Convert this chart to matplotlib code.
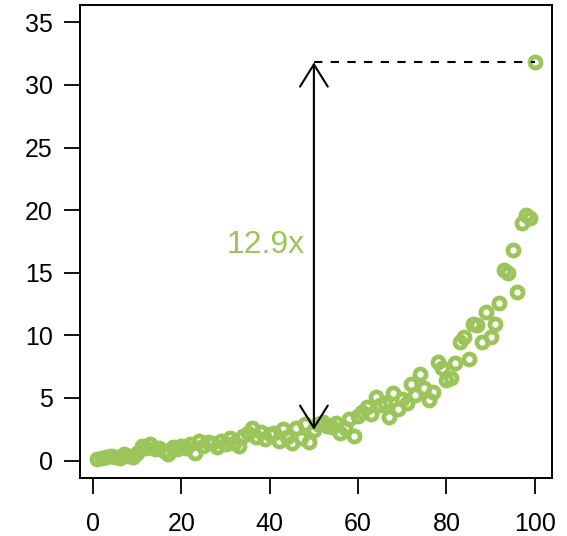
import matplotlib
matplotlib.use('Agg')
import matplotlib.pyplot as plt

plt.rcParams['font.family'] = ['Liberation Sans', 'DejaVu Sans']

xs = list(range(1, 101))
ys = [0.1, 0.2, 0.3, 0.4, 0.3, 0.2, 0.5, 0.4, 0.3, 0.6,
      1.2, 1.0, 1.3, 0.9, 1.0, 0.8, 0.5, 1.1, 0.9, 1.2,
      1.0, 1.3, 0.6, 1.6, 1.2, 1.5, 1.4, 1.1, 1.6, 1.3,
      1.8, 1.4, 1.2, 2.0, 2.2, 2.6, 1.9, 2.3, 1.7, 2.1,
      2.2, 1.6, 2.5, 1.9, 1.4, 2.6, 1.8, 2.9, 1.5, 2.46,
      2.9, 3.1, 2.8, 2.7, 3.0, 2.2, 2.6, 3.3, 2.0, 3.6,
      3.9, 4.3, 3.7, 5.1, 4.4, 4.6, 3.5, 5.4, 4.1, 4.9,
      4.6, 6.1, 5.2, 6.9, 5.8, 4.8, 5.5, 7.9, 7.4, 6.4,
      6.6, 7.8, 9.5, 9.9, 8.1, 10.9, 10.8, 9.5, 11.9, 9.9,
      10.9, 12.6, 15.2, 15.0, 16.8, 13.5, 19.0, 19.6, 19.4, 31.8]
xticks = [0, 20, 40, 60, 80, 100]
yticks = [0, 5, 10, 15, 20, 25, 30, 35]

green = '#9bc55a'

fig = plt.figure(figsize=(5.67, 5.36), dpi=100)
ax = fig.add_axes([0.141, 0.108, 0.833, 0.883])

ax.plot(xs, ys, 'o', mfc='none', mec=green, ms=8.0, mew=3.4)

# ratio between last point and the middle one
mid = 50
ratio = ys[-1] / ys[mid - 1]
ax.annotate('', xy=(mid, ys[-1]), xytext=(mid, ys[mid - 1]),
            arrowprops=dict(arrowstyle='<->,head_length=0.8,head_width=0.5',
                            lw=1.5, color='black', mutation_scale=20,
                            shrinkA=0, shrinkB=0))
ax.plot([mid, xs[-1]], [ys[-1], ys[-1]], color='black', lw=1.5,
        dashes=(4, 4))
ax.text(mid - 2, 17.2, '%.1fx' % ratio, color=green, fontsize=23,
        ha='right', va='center')

ax.set_xlim(-2.96, 103.96)
ax.set_ylim(-1.4, 36.4)
ax.set_xticks(xticks)
ax.set_yticks(yticks)
ax.tick_params(labelsize=18, length=11.5, width=1.3)
ax.tick_params(axis='y', pad=8)
ax.tick_params(axis='x', pad=13)
for s in ax.spines.values():
    s.set_linewidth(1.4)

fig.savefig('out.png', dpi=100)
